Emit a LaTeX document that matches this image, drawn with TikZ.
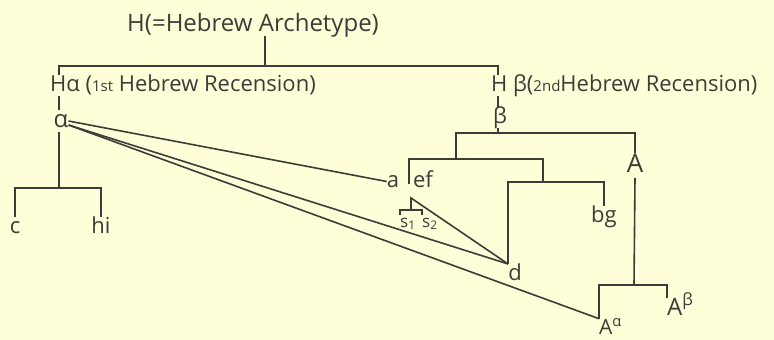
\documentclass[tikz,border=0pt]{standalone}
\usepackage{fontspec}
\setmainfont{Open Sans}
\definecolor{paper}{HTML}{FEFED8}
\definecolor{ink}{HTML}{3C3C38}
\tikzset{
  lbl/.style={inner sep=0pt, text=ink, font=\fontsize{#1}{#1}\selectfont,
    text height=0.72*#1 pt, text depth=0.22*#1 pt},
  lbl/.default=22,
  link/.style={draw=ink, line width=1.6pt},
}

\begin{document}
\begin{tikzpicture}[x=1pt,y=-1pt]
    \fill[paper] (0,0) rectangle (774,340);
    \useasboundingbox (0,0) rectangle (774,340);
    % headings
    \node[lbl=24,anchor=base] (arch) at (253,31) {H(=Hebrew Archetype)};
    \node[lbl=22,anchor=base west] (Ha) at (50,91) {Hα ({\fontsize{15}{15}\selectfont 1st} Hebrew Recension)};
    \node[lbl=22,anchor=base west] (Hb) at (491,91) {H β({\fontsize{15}{15}\selectfont 2nd}Hebrew Recension)};
    % witnesses
    \node[lbl=24,anchor=base] (alpha) at (61,127) {α};
    \node[lbl,anchor=base] (c) at (15,233) {c};
    \node[lbl,anchor=base] (hi) at (101,233) {hi};
    \node[lbl,anchor=base] (beta) at (500,123) {β};
    \node[lbl=26,anchor=base] (A) at (635,172) {A};
    \node[lbl,anchor=base] (a) at (393,187) {a};
    \node[lbl,anchor=base] (ef) at (423,187) {ef};
    \node[lbl,anchor=base] (bg) at (604,222) {bg};
    \node[lbl,anchor=base] (d) at (515,280) {d};
    \node[lbl=17,anchor=base west] (s1) at (400,227) {s\textsubscript{1}};
    \node[lbl=17,anchor=base west] (s2) at (422,227) {s\textsubscript{2}};
    \node[lbl=21,anchor=base west] (Aa) at (599,334) {A\textsuperscript{α}};
    \node[lbl=24,anchor=base west] (Ab) at (667,315) {A\textsuperscript{β}};
    % junctions
    \coordinate (jH) at (265,66);
    \coordinate (jHa) at (59,66);
    \coordinate (jHb) at (498,66);
    \coordinate (jal) at (59,188);
    \coordinate (jbe) at (498,133);
    \coordinate (jef) at (456,159);
    \coordinate (jefl) at (409,159);
    \coordinate (jbg) at (543,182);
    \coordinate (jA) at (634,285);
    \coordinate (apex) at (411,198);
    \coordinate (js) at (411,210);
    % top of the tree
    \draw[link] (jH |- arch.south) -- (jH);
    \draw[link] (jHa |- Ha.north) -- (jHa) -- (jHb) -- (jHb |- Hb.north);
    \draw[link] (jHa |- Ha.south) -- (jHa |- alpha.north);
    % alpha family
    \draw[link] (jal |- alpha.south) -- (jal);
    \draw[link] (c.north) |- (jal) -| (hi.north);
    \draw[link] (alpha.east) -- (a.west);
    \draw[link] ([yshift=-4pt]alpha.east) -- (d.north west);
    \draw[link] ([yshift=-4pt]alpha.east) -- (Aa.north west);
    % beta family
    \draw[link] (jHb |- Hb.south) -- (jHb |- beta.north);
    \draw[link] (jbe |- beta.south) -- (jbe);
    \draw[link] (jef) |- (jbe) -| (A.north);
    \draw[link] (jefl |- ef.mid) -- (jefl) -| (jbg);
    \draw[link] (d.north west) |- (jbg) -| (bg.north);
    \draw[link] (A.south) -- (jA);
    \draw[link] (Aa.north west) |- (jA) -| (Ab.north west);
    % s1, s2
    \draw[link] (d.north west) -- (apex) -- (js);
    \draw[link] (s1.north west) |- (js) -| (s2.north west);
\end{tikzpicture}
\end{document}
